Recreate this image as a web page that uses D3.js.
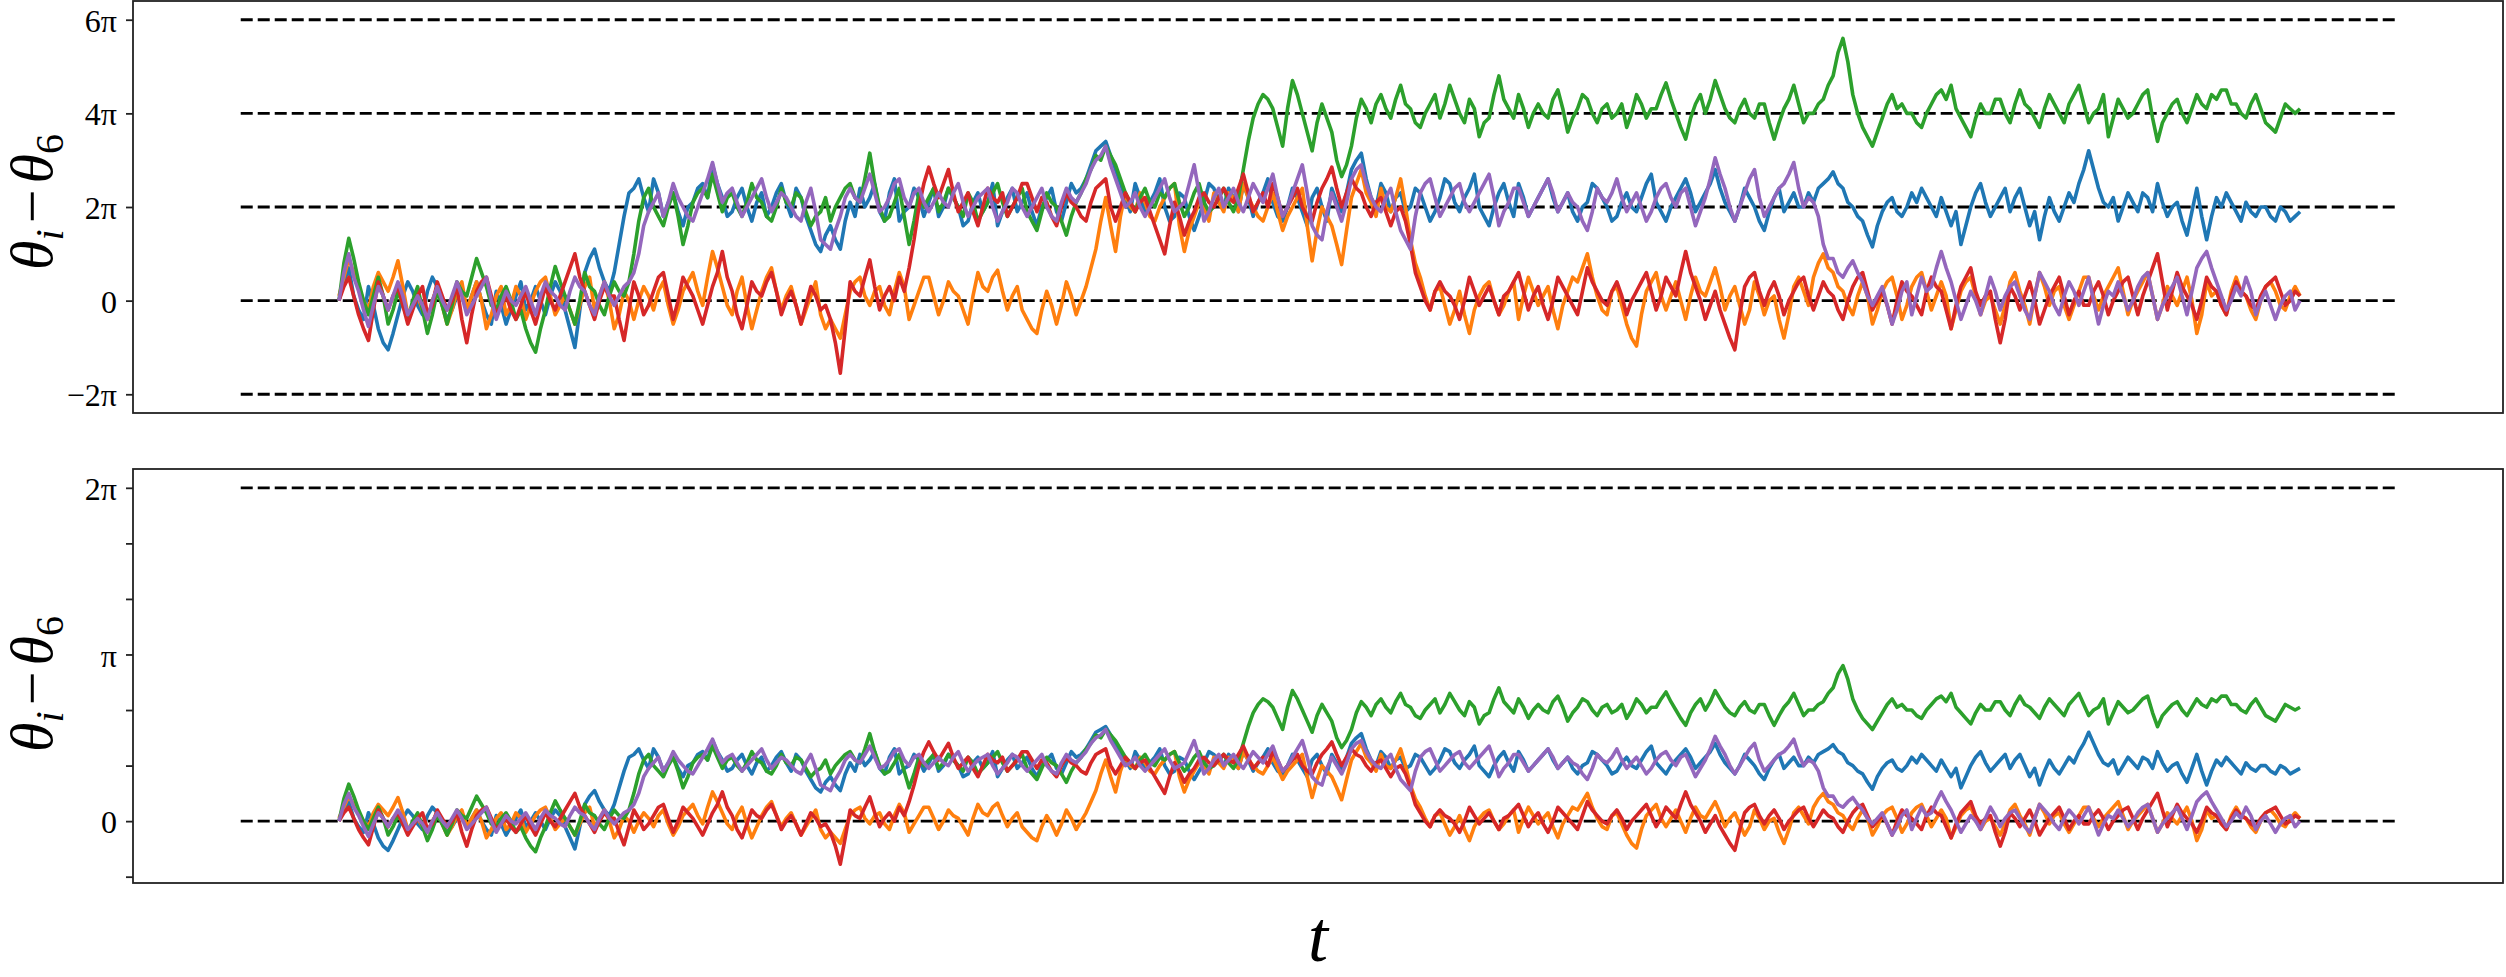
<!DOCTYPE html>
<html>
<head>
<meta charset="utf-8">
<script src="https://cdn.jsdelivr.net/npm/d3@7"></script>
<style>
  body { margin: 0; background: #fff; }
  svg { display: block; }
</style>
</head>
<body>
<svg id="chart"></svg>
<script>
// phase differences theta_i - theta_6, in units of pi
// 400 samples per oscillator, evenly spaced in t
const blue = [
  0.0, 0.4, 0.7, 0.1, -0.2, -0.4, 0.3, -0.1, -0.6, -0.9, -1.05, -0.7, -0.3, 0.1, 0.4, 0.2, -0.1, -0.3, 0.2, 0.5,
  0.3, -0.1, -0.4, -0.2, 0.1, 0.3, -0.2, 0.1, 0.4, 0.0, -0.3, -0.5, 0.2, -0.1, -0.5, -0.2, 0.1, 0.4, -0.2, 0.0,
  0.3, 0.0, -0.3, 0.1, 0.4, 0.2, -0.2, -0.6, -1.0, -0.2, 0.6, 0.9, 1.1, 0.7, 0.4, 0.2, 0.6, 1.2, 1.8, 2.3,
  2.4, 2.6, 2.2, 1.9, 2.6, 2.3, 1.8, 2.1, 2.3, 1.9, 1.6, 2.0, 2.1, 2.4, 2.5, 2.2, 2.9, 2.5, 2.2, 1.8,
  1.9, 2.2, 2.4, 2.0, 1.7, 2.1, 2.3, 1.8, 2.0, 2.3, 2.5, 2.1, 1.8, 2.4, 2.2, 1.8, 1.5, 1.2, 1.05, 1.4,
  1.6, 1.3, 1.1, 1.7, 2.1, 1.8, 2.4, 2.0, 2.2, 2.5, 1.9, 1.7, 2.3, 2.6, 1.7, 1.9, 2.0, 2.4, 2.2, 1.8,
  2.1, 2.4, 1.8, 2.0, 2.4, 2.2, 2.0, 1.6, 1.7, 2.1, 2.3, 1.9, 2.1, 2.5, 1.6, 1.9, 2.2, 2.4, 1.9, 2.1,
  2.3, 1.9, 1.6, 2.0, 2.2, 2.4, 1.9, 1.7, 2.1, 2.5, 2.3, 2.4, 2.6, 2.9, 3.2, 3.3, 3.4, 3.1, 2.8, 2.5,
  2.2, 1.9, 2.5, 2.2, 1.9, 2.1, 2.3, 2.6, 2.0, 1.7, 1.8, 2.3, 2.2, 1.8, 1.5, 1.8, 2.1, 2.5, 2.4, 2.1,
  2.0, 2.4, 2.2, 1.9, 2.5, 2.2, 1.8, 2.1, 2.3, 2.6, 2.1, 1.8, 1.7, 2.0, 2.4, 2.2, 1.9, 1.6, 2.2, 2.4,
  2.0, 1.7, 2.4, 2.1, 1.9, 2.3, 2.8, 3.0, 3.15, 2.6, 2.2, 2.0, 2.5, 2.3, 1.9, 2.2, 2.3, 1.9, 2.0, 2.4,
  2.3, 2.0, 1.7, 1.9, 2.2, 2.6, 2.5, 2.1, 1.9, 2.2, 2.4, 2.7, 2.0, 1.8, 1.6, 2.0, 2.3, 2.5, 2.1, 1.8,
  2.5, 2.2, 1.8, 2.0, 2.2, 2.4, 2.6, 2.2, 1.9, 2.1, 2.3, 1.9, 1.7, 2.0, 2.1, 2.5, 2.4, 2.2, 2.0, 1.7,
  1.8, 2.1, 2.3, 2.0, 1.9, 2.2, 2.5, 2.7, 2.1, 1.9, 1.7, 2.0, 2.2, 2.4, 2.6, 2.3, 1.9, 2.1, 2.3, 2.5,
  2.8, 2.4, 2.1, 1.9, 1.7, 2.0, 2.4, 2.2, 2.0, 1.7, 1.5, 1.9, 2.2, 2.4, 1.9, 2.1, 2.3, 2.0, 2.0, 2.3,
  2.1, 2.4, 2.5, 2.6, 2.75, 2.5, 2.4, 2.1, 2.0, 1.8, 1.7, 1.4, 1.15, 1.6, 1.9, 2.1, 2.2, 1.9, 1.8, 2.0,
  2.3, 2.1, 2.4, 2.2, 2.0, 1.8, 2.2, 1.9, 1.6, 1.9, 1.2, 1.6, 2.0, 2.3, 2.5, 2.1, 1.8, 2.0, 2.2, 2.4,
  1.9, 2.2, 2.4, 2.0, 1.6, 1.9, 1.3, 1.8, 2.2, 1.9, 1.7, 2.0, 2.3, 2.1, 2.5, 2.8, 3.2, 2.8, 2.4, 2.1,
  2.0, 2.2, 1.7, 2.0, 2.3, 2.1, 1.9, 2.3, 2.2, 1.9, 2.5, 2.1, 1.8, 2.0, 2.1, 1.7, 1.4, 1.9, 2.4, 1.8,
  1.3, 1.8, 2.2, 2.0, 2.3, 2.1, 1.9, 1.7, 2.1, 1.9, 1.8, 2.0, 2.0, 1.8, 1.7, 2.0, 1.9, 1.7, 1.8, 1.9
];
const orange = [
  0.1, 0.5, 0.9, 0.6, 0.3, 0.0, -0.2, 0.3, 0.6, 0.4, 0.2, 0.5, 0.85, 0.3, -0.3, -0.1, 0.1, -0.2, -0.4, 0.0,
  0.3, -0.1, -0.5, -0.2, 0.2, 0.4, -0.2, 0.1, 0.4, 0.0, -0.6, -0.3, 0.1, 0.3, -0.3, -0.1, 0.3, 0.1, -0.4, -0.1,
  0.2, 0.4, 0.5, 0.1, -0.3, -0.1, 0.1, -0.2, -0.5, -0.1, 0.3, 0.5, -0.2, 0.1, 0.4, 0.0, -0.6, -0.3, 0.2, 0.0,
  -0.4, 0.0, 0.3, 0.1, -0.2, 0.2, 0.4, -0.1, -0.5, -0.2, 0.2, 0.4, 0.6, 0.2, -0.1, 0.5, 1.05, 0.7, 0.3, -0.1,
  -0.3, 0.2, 0.5, -0.1, -0.6, -0.2, 0.2, 0.5, 0.7, 0.2, -0.2, 0.1, 0.3, -0.1, -0.5, -0.2, 0.1, 0.4, -0.3, -0.6,
  -0.4, -0.6, -0.8, -0.3, 0.2, 0.4, 0.5, 0.1, -0.1, 0.2, 0.3, -0.1, -0.3, 0.2, 0.6, 0.3, -0.4, -0.1, 0.2, 0.5,
  0.5, 0.1, -0.3, 0.0, 0.4, 0.2, 0.1, -0.2, -0.5, 0.1, 0.6, 0.3, 0.2, 0.5, 0.65, 0.2, -0.2, 0.1, 0.3, -0.2,
  -0.4, -0.6, -0.7, -0.2, 0.2, -0.1, -0.5, -0.1, 0.4, 0.1, -0.3, 0.0, 0.3, 0.7, 1.1, 1.7, 2.2, 1.6, 1.05, 1.8,
  2.3, 2.0, 1.9, 2.3, 2.1, 1.8, 1.7, 2.0, 2.2, 2.4, 2.5, 1.6, 1.05, 1.5, 1.8, 2.1, 2.0, 1.7, 2.3, 2.1,
  1.9, 2.3, 2.2, 1.9, 2.5, 2.2, 2.0, 1.8, 1.7, 2.0, 2.3, 1.9, 1.5, 1.8, 2.0, 2.2, 2.4, 1.6, 0.85, 1.5,
  2.0, 1.8, 1.6, 1.2, 0.77, 1.5, 2.2, 2.5, 2.8, 2.3, 2.1, 1.8, 2.4, 2.0, 1.9, 2.2, 2.6, 2.0, 1.3, 0.8,
  0.5, 0.1, -0.2, 0.2, 0.3, -0.1, -0.5, -0.2, 0.2, -0.3, -0.7, -0.2, 0.1, 0.3, 0.4, 0.0, -0.3, -0.1, 0.2, 0.4,
  -0.4, 0.1, 0.5, 0.2, -0.1, 0.1, 0.3, -0.2, -0.6, -0.1, 0.2, 0.5, 0.4, 0.7, 1.0, 0.5, 0.1, -0.2, -0.3, 0.2,
  0.3, -0.1, -0.5, -0.8, -0.97, -0.3, 0.2, 0.4, 0.6, 0.1, -0.2, 0.1, 0.4, 0.0, -0.4, 0.1, 0.5, 0.2, 0.1, 0.4,
  0.7, 0.3, -0.2, 0.1, 0.3, -0.1, -0.5, -0.2, 0.4, 0.1, -0.3, 0.0, 0.1, -0.4, -0.8, -0.3, 0.3, 0.5, 0.2, -0.1,
  0.5, 0.8, 1.0, 0.7, 0.6, 0.3, 0.2, -0.1, -0.3, 0.1, 0.4, 0.1, -0.5, -0.2, 0.2, 0.4, 0.5, 0.1, -0.4, -0.1,
  0.3, 0.5, 0.6, 0.2, -0.2, 0.1, 0.4, 0.1, -0.6, -0.2, 0.2, 0.4, 0.5, 0.1, -0.3, 0.0, 0.1, -0.2, -0.5, -0.1,
  0.4, 0.6, 0.2, -0.1, -0.5, 0.1, 0.6, 0.3, -0.1, 0.2, 0.3, -0.1, -0.4, -0.1, 0.2, 0.5, 0.5, 0.1, -0.2, 0.1,
  0.3, 0.5, 0.7, 0.2, -0.3, 0.0, 0.2, 0.4, 0.6, 0.1, -0.4, -0.1, 0.3, 0.1, -0.1, 0.2, 0.5, 0.0, -0.7, -0.3,
  0.4, 0.1, 0.2, -0.1, -0.3, 0.2, 0.5, 0.2, 0.1, -0.2, -0.4, 0.0, 0.3, 0.4, 0.2, -0.1, -0.2, 0.1, 0.3, 0.1
];
const green = [
  0.0, 0.8, 1.33, 0.9, 0.4, 0.0, -0.3, 0.1, 0.5, 0.1, -0.5, -0.2, 0.2, -0.1, -0.4, 0.0, 0.3, -0.2, -0.7, -0.3,
  0.2, -0.1, -0.5, -0.1, 0.4, 0.2, 0.1, 0.5, 0.9, 0.6, 0.3, -0.1, -0.2, 0.1, 0.3, 0.0, -0.4, -0.2, -0.6, -0.9,
  -1.1, -0.6, -0.2, 0.3, 0.73, 0.4, 0.1, -0.2, -0.5, 0.0, 0.6, 0.3, 0.2, -0.1, -0.3, 0.1, 0.4, 0.2, 0.1, 0.4,
  1.0, 1.7, 2.2, 2.4, 2.0, 1.8, 1.6, 2.0, 2.3, 1.8, 1.2, 1.6, 2.1, 2.3, 2.4, 2.2, 2.7, 2.3, 1.9, 2.2,
  2.3, 2.0, 1.8, 2.1, 2.5, 2.2, 2.1, 1.8, 1.7, 2.0, 2.4, 2.1, 2.0, 2.3, 2.2, 1.9, 1.6, 1.8, 1.9, 2.2,
  1.7, 2.0, 2.2, 2.4, 2.5, 2.2, 2.1, 2.6, 3.15, 2.5, 2.0, 1.7, 1.8, 2.1, 2.4, 1.8, 1.2, 1.7, 2.3, 2.0,
  2.2, 2.4, 1.9, 2.1, 2.4, 2.2, 2.0, 1.8, 2.3, 2.1, 1.7, 1.9, 2.1, 2.3, 2.5, 2.1, 1.8, 2.0, 2.2, 2.4,
  1.9, 1.7, 1.5, 1.9, 2.3, 2.1, 2.0, 1.7, 1.4, 1.8, 2.1, 2.3, 2.6, 2.8, 3.1, 3.0, 3.3, 3.1, 2.9, 2.6,
  2.3, 2.1, 1.9, 2.2, 2.4, 2.1, 2.0, 2.3, 2.2, 2.4, 2.5, 2.1, 1.8, 2.0, 2.3, 2.5, 2.1, 1.9, 2.0, 2.2,
  2.4, 2.1, 1.9, 2.2, 2.8, 3.4, 3.9, 4.2, 4.4, 4.3, 4.1, 3.7, 3.3, 4.1, 4.7, 4.4, 4.0, 3.6, 3.2, 3.8,
  4.2, 3.9, 3.6, 3.0, 2.65, 2.9, 3.3, 3.9, 4.3, 4.1, 3.8, 4.2, 4.4, 4.1, 3.9, 4.3, 4.6, 4.2, 4.1, 3.8,
  3.7, 4.0, 4.2, 4.4, 3.9, 4.2, 4.6, 4.3, 4.0, 3.8, 4.3, 4.1, 3.5, 3.8, 3.9, 4.4, 4.8, 4.3, 4.1, 3.9,
  4.4, 4.1, 3.7, 4.0, 4.2, 4.0, 3.9, 4.3, 4.5, 4.1, 3.6, 3.9, 4.1, 4.4, 4.3, 4.0, 3.8, 4.1, 4.2, 3.9,
  4.0, 4.2, 3.7, 4.0, 4.4, 4.2, 3.9, 4.1, 4.1, 4.4, 4.65, 4.3, 4.0, 3.7, 3.45, 3.9, 4.2, 4.4, 4.0, 4.3,
  4.7, 4.4, 4.1, 3.9, 3.8, 4.1, 4.3, 4.0, 3.9, 4.2, 4.2, 3.8, 3.45, 3.8, 4.1, 4.3, 4.6, 4.2, 3.8, 4.0,
  4.0, 4.2, 4.3, 4.6, 4.8, 5.3, 5.6, 5.1, 4.4, 4.0, 3.7, 3.5, 3.3, 3.6, 3.9, 4.2, 4.4, 4.1, 4.2, 4.0,
  4.0, 3.8, 3.7, 4.0, 4.2, 4.4, 4.5, 4.3, 4.6, 4.1, 3.9, 3.7, 3.5, 3.9, 4.2, 4.0, 4.0, 4.3, 4.3, 4.0,
  3.8, 4.2, 4.5, 4.2, 4.1, 3.9, 3.7, 4.1, 4.4, 4.2, 4.0, 3.8, 4.2, 4.4, 4.6, 4.2, 3.8, 4.0, 4.1, 4.4,
  3.5, 3.9, 4.3, 4.1, 3.9, 4.0, 4.2, 4.4, 4.5, 3.9, 3.4, 3.8, 4.0, 4.2, 4.3, 4.0, 3.8, 4.1, 4.4, 4.2,
  4.1, 4.4, 4.3, 4.5, 4.5, 4.2, 4.2, 4.0, 3.9, 4.2, 4.4, 4.1, 3.8, 3.7, 3.6, 3.9, 4.2, 4.1, 4.0, 4.1
];
const red = [
  0.0, 0.3, 0.5, 0.1, -0.3, -0.6, -0.85, -0.2, 0.4, 0.1, -0.2, 0.1, 0.3, -0.1, -0.5, -0.2, 0.1, 0.3, -0.3, -0.1,
  0.4, 0.1, -0.2, 0.0, 0.3, -0.4, -0.9, -0.3, 0.2, 0.4, 0.5, 0.1, -0.3, -0.1, 0.1, -0.2, -0.4, -0.1, 0.2, -0.2,
  -0.5, -0.1, 0.3, 0.0, -0.2, 0.1, 0.4, 0.7, 1.0, 0.5, 0.2, -0.1, -0.4, 0.0, 0.3, 0.1, 0.1, -0.4, -0.85, -0.2,
  0.4, 0.1, -0.3, -0.1, 0.2, 0.5, 0.6, 0.1, -0.4, 0.0, 0.5, 0.3, 0.1, -0.2, -0.5, -0.1, 0.3, 0.6, 1.05, 0.5,
  0.2, -0.3, -0.6, -0.1, 0.4, 0.2, 0.1, 0.4, 0.6, 0.2, -0.3, 0.0, 0.2, -0.1, -0.5, -0.1, 0.3, 0.1, -0.2, -0.1,
  -0.4, -0.9, -1.55, -0.6, 0.4, 0.2, 0.1, 0.5, 0.87, 0.3, -0.2, 0.1, 0.3, 0.0, 0.5, 0.2, 0.7, 1.3, 2.0, 2.5,
  2.85, 2.5, 2.2, 2.5, 2.8, 2.3, 1.9, 2.1, 2.3, 1.9, 1.6, 2.0, 2.4, 2.2, 2.1, 2.3, 1.8, 2.0, 2.2, 2.5,
  2.5, 2.2, 1.9, 2.2, 2.1, 1.8, 1.6, 2.0, 2.3, 2.1, 2.0, 1.8, 1.7, 2.1, 2.4, 2.5, 2.6, 2.0, 1.7, 2.0,
  2.3, 2.1, 1.9, 2.1, 2.2, 1.9, 1.6, 1.3, 1.0, 1.6, 2.1, 1.8, 1.4, 1.7, 1.9, 2.2, 2.3, 2.1, 2.0, 2.2,
  2.4, 2.2, 2.1, 2.4, 2.7, 2.3, 1.9, 2.1, 2.3, 2.0, 2.5, 2.2, 1.8, 2.0, 2.2, 2.4, 2.0, 1.8, 1.7, 2.1,
  2.4, 2.6, 2.85, 2.4, 2.0, 2.3, 2.6, 2.4, 2.3, 2.0, 1.8, 2.1, 2.2, 1.9, 1.6, 1.9, 2.0, 1.7, 1.2, 0.6,
  0.3, 0.0, -0.2, 0.2, 0.4, 0.2, 0.1, -0.1, -0.4, 0.0, 0.5, 0.2, -0.1, 0.1, 0.3, 0.0, -0.3, 0.1, 0.2, 0.4,
  0.6, 0.2, -0.2, 0.1, 0.3, -0.1, -0.4, 0.0, 0.5, 0.3, 0.1, -0.1, -0.3, 0.2, 0.7, 0.4, 0.2, 0.0, -0.1, 0.2,
  0.4, 0.1, -0.3, 0.0, 0.2, 0.4, 0.6, 0.2, -0.2, 0.1, 0.5, 0.3, 0.1, 0.6, 1.05, 0.6, 0.3, 0.0, -0.4, -0.1,
  0.2, -0.2, -0.5, -0.8, -1.05, -0.3, 0.3, 0.5, 0.6, 0.2, -0.1, 0.2, 0.4, 0.1, -0.3, 0.0, 0.2, 0.4, 0.5, 0.1,
  -0.2, 0.1, 0.4, 0.2, 0.1, -0.2, -0.4, 0.0, 0.3, 0.5, 0.6, 0.2, -0.2, 0.0, 0.2, -0.1, -0.5, 0.0, 0.4, 0.2,
  0.1, -0.1, -0.3, 0.2, 0.5, 0.3, 0.2, -0.2, -0.6, -0.1, 0.3, 0.5, 0.7, 0.2, -0.1, 0.1, 0.2, -0.4, -0.9, -0.4,
  0.3, 0.1, -0.2, 0.1, 0.4, 0.0, -0.5, -0.2, 0.1, 0.3, 0.5, 0.1, -0.3, 0.0, 0.2, -0.1, -0.1, 0.2, 0.4, 0.1,
  -0.3, 0.0, 0.2, 0.4, 0.5, 0.1, -0.3, 0.1, 0.4, 0.7, 1.0, 0.4, -0.2, 0.2, 0.6, 0.3, 0.1, -0.1, -0.4, 0.0,
  0.5, 0.3, 0.2, -0.1, -0.3, 0.1, 0.4, 0.2, 0.1, -0.1, -0.2, 0.1, 0.3, 0.4, 0.5, 0.2, -0.1, 0.0, 0.2, 0.1
];
const purple = [
  0.0, 0.6, 1.0, 0.5, 0.2, -0.2, -0.55, -0.1, 0.3, 0.1, -0.2, 0.1, 0.4, 0.1, -0.3, -0.1, 0.1, -0.1, -0.4, 0.0,
  0.3, 0.0, -0.2, 0.1, 0.4, 0.1, -0.3, -0.1, 0.1, 0.3, 0.5, 0.0, -0.4, -0.1, 0.2, 0.0, -0.1, 0.1, 0.3, 0.0,
  -0.3, 0.1, 0.4, 0.2, 0.1, -0.1, -0.2, 0.2, 0.5, 0.3, 0.2, -0.1, -0.3, 0.1, 0.4, 0.1, -0.1, 0.1, 0.3, 0.4,
  0.6, 1.0, 1.6, 1.9, 2.1, 2.3, 1.8, 2.1, 2.5, 2.2, 2.0, 1.8, 1.7, 2.0, 2.3, 2.6, 2.95, 2.5, 2.1, 2.3,
  2.4, 2.1, 1.8, 2.0, 2.2, 2.4, 2.6, 2.2, 1.9, 2.1, 2.3, 2.2, 2.0, 1.8, 1.7, 2.1, 2.4, 1.9, 1.3, 1.2,
  1.1, 1.5, 1.8, 2.2, 2.4, 2.2, 2.1, 2.4, 2.7, 2.3, 1.9, 2.0, 2.2, 2.5, 2.6, 2.2, 2.0, 2.3, 2.4, 2.1,
  1.9, 2.1, 2.3, 2.1, 2.0, 2.3, 2.5, 2.1, 1.8, 2.0, 2.2, 2.3, 2.4, 2.0, 1.7, 1.9, 2.1, 2.4, 2.3, 2.0,
  1.8, 2.0, 2.2, 2.4, 2.0, 1.8, 1.7, 2.1, 2.4, 2.2, 2.1, 2.3, 2.5, 2.8, 3.0, 3.1, 3.3, 2.9, 2.6, 2.3,
  2.0, 2.1, 2.3, 2.0, 1.8, 2.0, 2.2, 2.4, 2.6, 2.2, 1.9, 2.0, 2.1, 2.5, 2.9, 2.3, 1.7, 1.9, 2.2, 2.4,
  2.0, 2.2, 2.4, 2.1, 1.9, 2.2, 2.5, 2.3, 2.1, 2.4, 2.7, 2.2, 1.8, 2.0, 2.3, 2.6, 2.9, 2.3, 1.6, 1.4,
  1.3, 1.9, 2.3, 2.0, 1.7, 2.1, 2.6, 2.8, 2.9, 2.5, 2.2, 2.0, 1.9, 2.2, 2.4, 1.9, 1.5, 1.3, 1.1, 1.8,
  2.3, 2.5, 2.6, 2.2, 1.8, 2.0, 2.2, 2.4, 2.5, 2.1, 1.9, 2.1, 2.3, 2.5, 2.7, 2.2, 1.6, 1.9, 2.1, 2.4,
  2.4, 2.1, 1.8, 2.0, 2.2, 2.4, 2.6, 2.3, 1.9, 2.1, 2.3, 2.1, 2.0, 1.7, 1.5, 1.9, 2.4, 2.2, 2.1, 2.3,
  2.6, 2.2, 1.9, 2.1, 2.3, 2.0, 1.7, 1.9, 2.2, 2.4, 2.5, 2.2, 2.0, 2.3, 2.4, 2.0, 1.6, 1.9, 2.2, 2.6,
  3.05, 2.7, 2.4, 2.0, 1.7, 2.0, 2.3, 2.6, 2.8, 2.2, 1.8, 2.0, 2.2, 2.4, 2.5, 2.7, 2.95, 2.4, 2.0, 2.2,
  2.1, 1.8, 1.2, 0.9, 0.9, 0.6, 0.5, 0.7, 0.85, 0.6, 0.4, 0.1, -0.1, 0.1, 0.3, -0.1, -0.5, -0.2, 0.2, 0.4,
  -0.3, 0.1, 0.5, 0.2, 0.3, 0.7, 1.05, 0.7, 0.4, 0.0, -0.4, -0.1, 0.2, 0.0, -0.3, 0.1, 0.5, 0.2, -0.2, 0.1,
  0.3, 0.4, 0.1, -0.2, -0.4, 0.1, 0.6, 0.4, 0.2, -0.1, -0.3, 0.1, 0.4, 0.2, -0.1, 0.2, 0.5, 0.0, -0.5, -0.1,
  0.2, 0.1, 0.4, 0.1, -0.2, 0.0, 0.3, 0.5, 0.6, 0.1, -0.4, -0.1, 0.1, 0.3, 0.5, 0.1, -0.3, 0.2, 0.7, 0.9,
  1.05, 0.7, 0.4, 0.1, -0.2, 0.0, 0.3, 0.1, 0.5, 0.2, -0.3, 0.0, 0.2, -0.1, -0.4, -0.1, 0.1, 0.2, -0.2, 0.0
];

const seriesList = [blue, orange, green, red, purple];
const seriesColors = ["#1f77b4", "#ff7f0e", "#2ca02c", "#d62728", "#9467bd"];

// time span of the samples and of the dashed reference lines
const tFirst = 4.56, tLast = 95.58;
const refStart = 0, refEnd = 100;

// reference levels and ticks (units of pi)
const topLevels = [-2, 0, 2, 4, 6];
const topTicks = [-2, 0, 2, 4, 6];
const topTickLabels = ["\u22122\u03c0", "0", "2\u03c0", "4\u03c0", "6\u03c0"];
const bottomLevels = [0, 2];
const bottomTicks = [-1/3, 0, 1/3, 2/3, 1, 4/3, 5/3, 2];
const bottomTickLabels = { "0": "0", "1": "\u03c0", "2": "2\u03c0" };
const bottomDivisor = 6; // lower panel shows (theta_i - theta_6) / 6

const W = 2506, H = 977;
const FONT = "'Liberation Serif', 'DejaVu Serif', serif";

const svg = d3.select("#chart").attr("width", W).attr("height", H);

const x = d3.scaleLinear()
  .domain([refStart - 0.05 * (refEnd - refStart), refEnd + 0.05 * (refEnd - refStart)])
  .range([133, 2503]);

const n = blue.length;
const tOf = i => tFirst + i * (tLast - tFirst) / (n - 1);

function paddedDomain(values, levels) {
  var lo = Math.min(d3.min(values), d3.min(levels));
  var hi = Math.max(d3.max(values), d3.max(levels));
  var pad = 0.05 * (hi - lo);
  return [lo - pad, hi + pad];
}

function drawPanel(top, bottom, divisor, levels, ticks, labelOf, labelY) {
  var data = seriesList.map(s => s.map(v => v / divisor));
  var y = d3.scaleLinear()
    .domain(paddedDomain(data.flat(), levels))
    .range([bottom, top]);

  var g = svg.append("g");

  // dashed reference lines
  g.selectAll("line.ref")
    .data(levels)
    .enter()
    .append("line")
    .attr("class", "ref")
    .attr("x1", x(refStart))
    .attr("x2", x(refEnd))
    .attr("y1", d => y(d))
    .attr("y2", d => y(d))
    .attr("stroke", "#000")
    .attr("stroke-width", 2.8)
    .attr("stroke-dasharray", "12,5");

  var line = d3.line()
    .x((d, i) => x(tOf(i)))
    .y(d => y(d));

  g.selectAll("path.series")
    .data(data)
    .enter()
    .append("path")
    .attr("class", "series")
    .attr("d", line)
    .attr("fill", "none")
    .attr("stroke", (d, i) => seriesColors[i])
    .attr("stroke-width", 3.6)
    .attr("stroke-linejoin", "round");

  // frame
  g.append("rect")
    .attr("x", x.range()[0])
    .attr("y", top)
    .attr("width", x.range()[1] - x.range()[0])
    .attr("height", bottom - top)
    .attr("fill", "none")
    .attr("stroke", "#222")
    .attr("stroke-width", 1.8);

  var axis = g.append("g")
    .attr("transform", "translate(" + x.range()[0] + ",0)")
    .call(d3.axisLeft(y).tickValues(ticks).tickFormat(labelOf).tickSize(7).tickPadding(9));
  axis.select(".domain").remove();
  axis.selectAll(".tick line").attr("stroke", "#222").attr("stroke-width", 1.8);
  axis.selectAll(".tick text")
    .attr("font-family", FONT)
    .attr("font-size", 32)
    .attr("fill", "#000")
    .attr("dy", "0.36em");

  // y label: theta_i - theta_6
  var lab = svg.append("text")
    .attr("transform", "translate(52," + labelY + ") rotate(-90)")
    .attr("text-anchor", "middle")
    .attr("font-family", FONT)
    .attr("font-style", "italic")
    .attr("font-size", 60);
  lab.append("tspan").text("\u03b8");
  lab.append("tspan").attr("font-size", 40).attr("dy", 11).text("i");
  lab.append("tspan").attr("font-style", "normal").attr("dx", 6).attr("dy", -11).text("\u2212");
  lab.append("tspan").attr("dx", 6).text("\u03b8");
  lab.append("tspan").attr("font-style", "normal").attr("font-size", 40).attr("dy", 11).text("6");
}

drawPanel(1, 413, 1, topLevels, topTicks, (d, i) => topTickLabels[i], 202);
drawPanel(469, 883, bottomDivisor, bottomLevels, bottomTicks, d => {
  var k = Math.round(d);
  return Math.abs(d - k) < 1e-6 && bottomTickLabels[k] !== undefined ? bottomTickLabels[k] : "";
}, 684);

// x label
svg.append("text")
  .attr("x", (x.range()[0] + x.range()[1]) / 2)
  .attr("y", 961)
  .attr("text-anchor", "middle")
  .attr("font-family", FONT)
  .attr("font-style", "italic")
  .attr("font-size", 72)
  .text("t");
</script>
</body>
</html>
